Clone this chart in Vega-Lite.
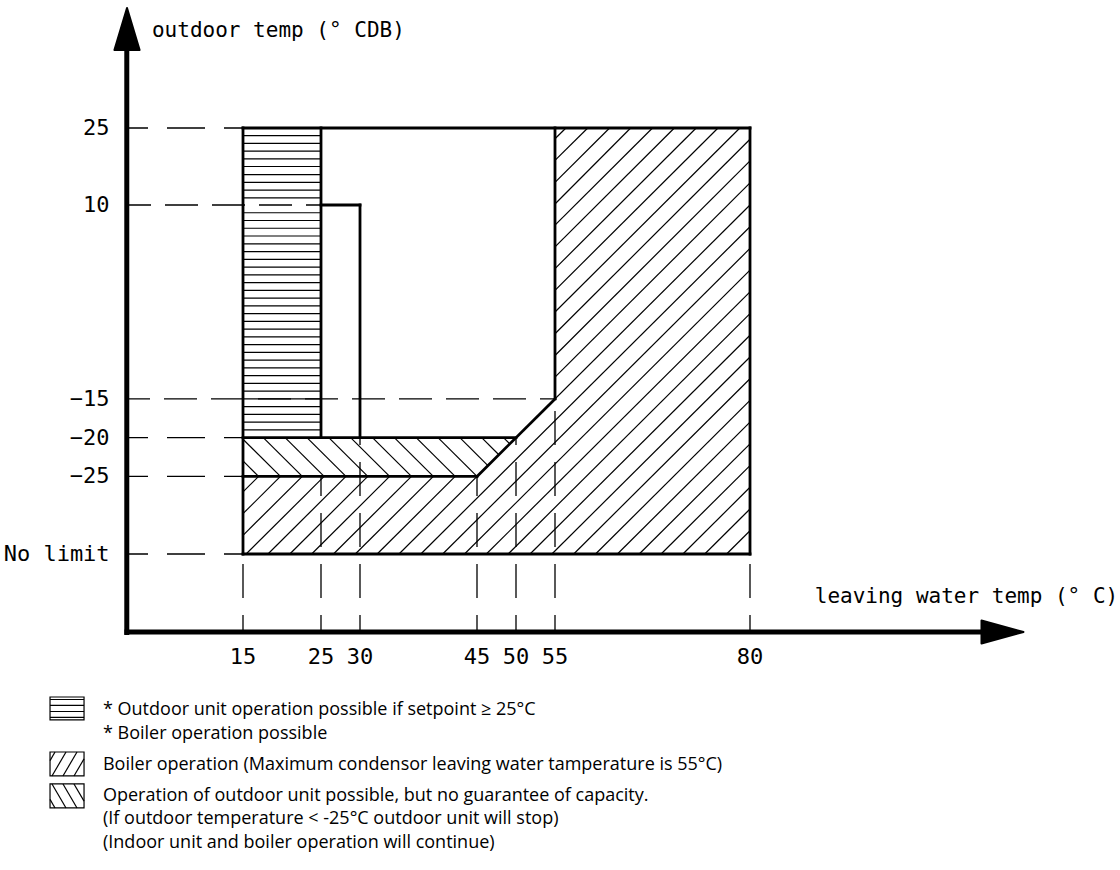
{
  "$schema": "https://vega.github.io/schema/vega-lite/v6.json",
  "width": 1120,
  "height": 870,
  "padding": 0,
  "autosize": {"type": "none"},
  "background": "white",
  "config": {"view": {"stroke": null}},
  "datasets": {
    "lines": [
      {"x": 15, "y": 25, "x2": 80, "y2": 25, "k": "b"},
      {"x": 80, "y": 25, "x2": 80, "y2": -35, "k": "b"},
      {"x": 15, "y": -35, "x2": 80, "y2": -35, "k": "b"},
      {"x": 15, "y": 25, "x2": 15, "y2": -35, "k": "b"},
      {"x": 25, "y": 25, "x2": 25, "y2": -20, "k": "b"},
      {"x": 15, "y": -20, "x2": 50, "y2": -20, "k": "b"},
      {"x": 15, "y": -25, "x2": 45, "y2": -25, "k": "b"},
      {"x": 45, "y": -25, "x2": 55, "y2": -15, "k": "b"},
      {"x": 55, "y": -15, "x2": 55, "y2": 25, "k": "b"},
      {"x": 25, "y": 10, "x2": 30, "y2": 10, "k": "b"},
      {"x": 30, "y": 10, "x2": 30, "y2": -20, "k": "b"},
      {"x": 0.1, "y": -45.45, "x2": 0.1, "y2": 40.6, "k": "a"},
      {"x": -0.2, "y": -45.06, "x2": 110.1, "y2": -45.06, "k": "a"},
      {"x": 15, "y": 25, "x2": 0.3, "y2": 25, "k": "dA"},
      {"x": 15, "y": -20, "x2": 0.3, "y2": -20, "k": "dA"},
      {"x": 15, "y": -25, "x2": 0.3, "y2": -25, "k": "dA"},
      {"x": 15, "y": -35, "x2": 0.3, "y2": -35, "k": "dA"},
      {"x": 25, "y": 10, "x2": 0.3, "y2": 10, "k": "dB"},
      {"x": 55, "y": -15, "x2": 0.3, "y2": -15, "k": "dB"},
      {"x": 15, "y": -45.06, "x2": 15, "y2": -35, "k": "dV"},
      {"x": 25, "y": -45.06, "x2": 25, "y2": -25, "k": "dV"},
      {"x": 30, "y": -45.06, "x2": 30, "y2": -20, "k": "dV"},
      {"x": 45, "y": -45.06, "x2": 45, "y2": -25, "k": "dV"},
      {"x": 50, "y": -45.06, "x2": 50, "y2": -20, "k": "dV"},
      {"x": 55, "y": -45.06, "x2": 55, "y2": -15, "k": "dV"},
      {"x": 80, "y": -45.06, "x2": 80, "y2": -35, "k": "dV"},
      {"x": 15, "y": 23.5, "x2": 25, "y2": 23.5, "k": "h"},
      {"x": 15, "y": 22, "x2": 25, "y2": 22, "k": "h"},
      {"x": 15, "y": 20.5, "x2": 25, "y2": 20.5, "k": "h"},
      {"x": 15, "y": 19, "x2": 25, "y2": 19, "k": "h"},
      {"x": 15, "y": 17.5, "x2": 25, "y2": 17.5, "k": "h"},
      {"x": 15, "y": 15.9, "x2": 25, "y2": 15.9, "k": "h"},
      {"x": 15, "y": 14.4, "x2": 25, "y2": 14.4, "k": "h"},
      {"x": 15, "y": 12.9, "x2": 25, "y2": 12.9, "k": "h"},
      {"x": 15, "y": 11.4, "x2": 25, "y2": 11.4, "k": "h"},
      {"x": 15, "y": 9, "x2": 25, "y2": 9, "k": "h"},
      {"x": 15, "y": 8, "x2": 25, "y2": 8, "k": "h"},
      {"x": 15, "y": 7, "x2": 25, "y2": 7, "k": "h"},
      {"x": 15, "y": 6, "x2": 25, "y2": 6, "k": "h"},
      {"x": 15, "y": 5, "x2": 25, "y2": 5, "k": "h"},
      {"x": 15, "y": 4, "x2": 25, "y2": 4, "k": "h"},
      {"x": 15, "y": 3, "x2": 25, "y2": 3, "k": "h"},
      {"x": 15, "y": 2, "x2": 25, "y2": 2, "k": "h"},
      {"x": 15, "y": 1, "x2": 25, "y2": 1, "k": "h"},
      {"x": 15, "y": 0, "x2": 25, "y2": 0, "k": "h"},
      {"x": 15, "y": -1, "x2": 25, "y2": -1, "k": "h"},
      {"x": 15, "y": -2, "x2": 25, "y2": -2, "k": "h"},
      {"x": 15, "y": -3, "x2": 25, "y2": -3, "k": "h"},
      {"x": 15, "y": -4, "x2": 25, "y2": -4, "k": "h"},
      {"x": 15, "y": -5, "x2": 25, "y2": -5, "k": "h"},
      {"x": 15, "y": -6, "x2": 25, "y2": -6, "k": "h"},
      {"x": 15, "y": -7, "x2": 25, "y2": -7, "k": "h"},
      {"x": 15, "y": -8, "x2": 25, "y2": -8, "k": "h"},
      {"x": 15, "y": -9, "x2": 25, "y2": -9, "k": "h"},
      {"x": 15, "y": -10, "x2": 25, "y2": -10, "k": "h"},
      {"x": 15, "y": -11, "x2": 25, "y2": -11, "k": "h"},
      {"x": 15, "y": -12, "x2": 25, "y2": -12, "k": "h"},
      {"x": 15, "y": -13, "x2": 25, "y2": -13, "k": "h"},
      {"x": 15, "y": -14, "x2": 25, "y2": -14, "k": "h"},
      {"x": 15, "y": -15, "x2": 25, "y2": -15, "k": "h"},
      {"x": 15, "y": -16, "x2": 25, "y2": -16, "k": "h"},
      {"x": 15, "y": -17, "x2": 25, "y2": -17, "k": "h"},
      {"x": 15, "y": -18, "x2": 25, "y2": -18, "k": "h"},
      {"x": 15, "y": -19, "x2": 25, "y2": -19, "k": "h"},
      {"x": 32.2, "y": -35, "x2": 42.2, "y2": -25, "k": "h"},
      {"x": 29.4, "y": -35, "x2": 39.4, "y2": -25, "k": "h"},
      {"x": 26.6, "y": -35, "x2": 36.6, "y2": -25, "k": "h"},
      {"x": 23.8, "y": -35, "x2": 33.8, "y2": -25, "k": "h"},
      {"x": 21.0, "y": -35, "x2": 31.0, "y2": -25, "k": "h"},
      {"x": 18.2, "y": -35, "x2": 28.2, "y2": -25, "k": "h"},
      {"x": 15.4, "y": -35, "x2": 25.4, "y2": -25, "k": "h"},
      {"x": 15, "y": -32.6, "x2": 22.6, "y2": -25, "k": "h"},
      {"x": 15, "y": -29.8, "x2": 19.8, "y2": -25, "k": "h"},
      {"x": 15, "y": -27, "x2": 17, "y2": -25, "k": "h"},
      {"x": 35, "y": -35, "x2": 80, "y2": 10, "k": "h"},
      {"x": 37.8, "y": -35, "x2": 80, "y2": 7.2, "k": "h"},
      {"x": 40.6, "y": -35, "x2": 80, "y2": 4.4, "k": "h"},
      {"x": 43.4, "y": -35, "x2": 80, "y2": 1.6, "k": "h"},
      {"x": 46.2, "y": -35, "x2": 80, "y2": -1.2, "k": "h"},
      {"x": 49.0, "y": -35, "x2": 80, "y2": -4, "k": "h"},
      {"x": 51.8, "y": -35, "x2": 80, "y2": -6.8, "k": "h"},
      {"x": 54.6, "y": -35, "x2": 80, "y2": -9.6, "k": "h"},
      {"x": 57.4, "y": -35, "x2": 80, "y2": -12.4, "k": "h"},
      {"x": 60.2, "y": -35, "x2": 80, "y2": -15.2, "k": "h"},
      {"x": 63.0, "y": -35, "x2": 80, "y2": -18, "k": "h"},
      {"x": 65.8, "y": -35, "x2": 80, "y2": -20.8, "k": "h"},
      {"x": 68.6, "y": -35, "x2": 80, "y2": -23.6, "k": "h"},
      {"x": 71.4, "y": -35, "x2": 80, "y2": -26.4, "k": "h"},
      {"x": 74.2, "y": -35, "x2": 80, "y2": -29.2, "k": "h"},
      {"x": 77.0, "y": -35, "x2": 80, "y2": -32, "k": "h"},
      {"x": 55, "y": -12.2, "x2": 80, "y2": 14.3, "k": "h"},
      {"x": 55, "y": -9.4, "x2": 80, "y2": 18.6, "k": "h"},
      {"x": 55, "y": -6.6, "x2": 80, "y2": 22.8, "k": "h"},
      {"x": 55, "y": -3.8, "x2": 78.7, "y2": 25, "k": "h"},
      {"x": 55, "y": -1.0, "x2": 75.9, "y2": 25, "k": "h"},
      {"x": 55, "y": 1.8, "x2": 73.1, "y2": 25, "k": "h"},
      {"x": 55, "y": 4.6, "x2": 70.3, "y2": 25, "k": "h"},
      {"x": 55, "y": 7.4, "x2": 67.5, "y2": 25, "k": "h"},
      {"x": 55, "y": 10.2, "x2": 64.7, "y2": 25, "k": "h"},
      {"x": 55, "y": 14.4, "x2": 62.0, "y2": 25, "k": "h"},
      {"x": 55, "y": 18.7, "x2": 59.2, "y2": 25, "k": "h"},
      {"x": 55, "y": 22.9, "x2": 56.4, "y2": 25, "k": "h"},
      {"x": 15, "y": -23.0, "x2": 17.0, "y2": -25, "k": "h"},
      {"x": 15, "y": -20.2, "x2": 19.8, "y2": -25, "k": "h"},
      {"x": 17.6, "y": -20, "x2": 22.6, "y2": -25, "k": "h"},
      {"x": 20.4, "y": -20, "x2": 25.4, "y2": -25, "k": "h"},
      {"x": 23.2, "y": -20, "x2": 28.2, "y2": -25, "k": "h"},
      {"x": 26.0, "y": -20, "x2": 31.0, "y2": -25, "k": "h"},
      {"x": 28.8, "y": -20, "x2": 33.8, "y2": -25, "k": "h"},
      {"x": 31.6, "y": -20, "x2": 36.6, "y2": -25, "k": "h"},
      {"x": 34.4, "y": -20, "x2": 39.4, "y2": -25, "k": "h"},
      {"x": 37.2, "y": -20, "x2": 42.2, "y2": -25, "k": "h"},
      {"x": 40.0, "y": -20, "x2": 45.0, "y2": -25, "k": "h"},
      {"x": 42.8, "y": -20, "x2": 46.4, "y2": -23.6, "k": "h"},
      {"x": 45.6, "y": -20, "x2": 47.8, "y2": -22.2, "k": "h"},
      {"x": 48.4, "y": -20, "x2": 49.2, "y2": -20.8, "k": "h"},
      {"x": -9.74, "y": -53.76, "x2": -5.38, "y2": -53.76, "k": "h"},
      {"x": -9.74, "y": -54.53, "x2": -5.38, "y2": -54.53, "k": "h"},
      {"x": -9.74, "y": -55.31, "x2": -5.38, "y2": -55.31, "k": "h"},
      {"x": -9.74, "y": -56.08, "x2": -5.38, "y2": -56.08, "k": "h"},
      {"x": -9.74, "y": -61.64, "x2": -9.10, "y2": -60.53, "k": "h"},
      {"x": -9.49, "y": -63.62, "x2": -7.69, "y2": -60.53, "k": "h"},
      {"x": -8.08, "y": -63.62, "x2": -6.28, "y2": -60.53, "k": "h"},
      {"x": -6.67, "y": -63.62, "x2": -5.38, "y2": -61.42, "k": "h"},
      {"x": -9.74, "y": -66.64, "x2": -9.10, "y2": -67.75, "k": "h"},
      {"x": -9.49, "y": -64.65, "x2": -7.69, "y2": -67.75, "k": "h"},
      {"x": -8.08, "y": -64.65, "x2": -6.28, "y2": -67.75, "k": "h"},
      {"x": -6.67, "y": -64.65, "x2": -5.38, "y2": -66.86, "k": "h"}
    ],
    "swatches": [
      {"x": -9.74, "x2": -5.38, "y": -53.44, "y2": -56.40},
      {"x": -9.74, "x2": -5.38, "y": -60.53, "y2": -63.62},
      {"x": -9.74, "x2": -5.38, "y": -64.65, "y2": -67.75}
    ],
    "arrows": [
      {"x": 0.13, "y": 44.29, "k": "up"},
      {"x": 112.37, "y": -45.06, "k": "right"}
    ],
    "texts": [
      {"t": "outdoor temp (° CDB)", "x": 3.33, "y": 42.73, "k": "title"},
      {"t": "leaving water temp (° C)", "x": 88.3, "y": -41.32, "k": "title"},
      {"t": "25", "x": -2.1, "y": 25, "k": "yt"},
      {"t": "10", "x": -2.1, "y": 10, "k": "yt"},
      {"t": "−15", "x": -2.1, "y": -15, "k": "yt"},
      {"t": "−20", "x": -2.1, "y": -20, "k": "yt"},
      {"t": "−25", "x": -2.1, "y": -25, "k": "yt"},
      {"t": "No limit", "x": -2.1, "y": -35, "k": "yt"},
      {"t": "15", "x": 15, "y": -48.28, "k": "xt"},
      {"t": "25", "x": 25, "y": -48.28, "k": "xt"},
      {"t": "30", "x": 30, "y": -48.28, "k": "xt"},
      {"t": "45", "x": 45, "y": -48.28, "k": "xt"},
      {"t": "50", "x": 50, "y": -48.28, "k": "xt"},
      {"t": "55", "x": 55, "y": -48.28, "k": "xt"},
      {"t": "80", "x": 80, "y": -48.28, "k": "xt"},
      {"t": "* Outdoor unit operation possible if setpoint ≥ 25°C", "x": -2.95, "y": -55.11, "k": "lg"},
      {"t": "* Boiler operation possible", "x": -2.95, "y": -58.21, "k": "lg"},
      {"t": "Boiler operation (Maximum condensor leaving water tamperature is 55°C)", "x": -2.95, "y": -62.2, "k": "lg"},
      {"t": "Operation of outdoor unit possible, but no guarantee of capacity.", "x": -2.95, "y": -66.2, "k": "lg"},
      {"t": "(If outdoor temperature < -25°C outdoor unit will stop)", "x": -2.95, "y": -69.17, "k": "lg"},
      {"t": "(Indoor unit and boiler operation will continue)", "x": -2.95, "y": -72.26, "k": "lg"}
    ]
  },
  "encoding": {
    "x": {"field": "x", "type": "quantitative", "scale": {"domain": [0, 115], "range": [126, 1023], "zero": false, "nice": false}, "axis": null},
    "y": {"field": "y", "type": "quantitative", "scale": {"domain": [-75, 10, 25, 50], "range": [864.2, 205, 128, -0.3], "zero": false, "nice": false}, "axis": null}
  },
  "layer": [
    {
      "data": {"name": "lines"},
      "transform": [{"filter": "datum.k == 'h'"}],
      "mark": {"type": "rule", "stroke": "black", "strokeWidth": 1.2},
      "encoding": {"x2": {"field": "x2"}, "y2": {"field": "y2"}}
    },
    {
      "data": {"name": "lines"},
      "transform": [{"filter": "datum.k == 'dA'"}],
      "mark": {"type": "rule", "stroke": "black", "strokeWidth": 1.3, "strokeDash": [38, 19], "strokeDashOffset": 19},
      "encoding": {"x2": {"field": "x2"}, "y2": {"field": "y2"}}
    },
    {
      "data": {"name": "lines"},
      "transform": [{"filter": "datum.k == 'dB'"}],
      "mark": {"type": "rule", "stroke": "black", "strokeWidth": 1.3, "strokeDash": [33, 14], "strokeDashOffset": 18},
      "encoding": {"x2": {"field": "x2"}, "y2": {"field": "y2"}}
    },
    {
      "data": {"name": "lines"},
      "transform": [{"filter": "datum.k == 'dV'"}],
      "mark": {"type": "rule", "stroke": "black", "strokeWidth": 1.3, "strokeDash": [34, 17], "strokeDashOffset": 17},
      "encoding": {"x2": {"field": "x2"}, "y2": {"field": "y2"}}
    },
    {
      "data": {"name": "lines"},
      "transform": [{"filter": "datum.k == 'b'"}],
      "mark": {"type": "rule", "stroke": "black", "strokeWidth": 2.8, "strokeCap": "square"},
      "encoding": {"x2": {"field": "x2"}, "y2": {"field": "y2"}}
    },
    {
      "data": {"name": "lines"},
      "transform": [{"filter": "datum.k == 'a'"}],
      "mark": {"type": "rule", "stroke": "black", "strokeWidth": 5},
      "encoding": {"x2": {"field": "x2"}, "y2": {"field": "y2"}}
    },
    {
      "data": {"name": "swatches"},
      "mark": {"type": "rect", "fill": "white", "fillOpacity": 0, "stroke": "black", "strokeWidth": 1.2},
      "encoding": {"x2": {"field": "x2"}, "y2": {"field": "y2"}}
    },
    {
      "data": {"name": "arrows"},
      "transform": [{"filter": "datum.k == 'up'"}],
      "mark": {"type": "point", "shape": "M0,-1L0.6,1L-0.6,1Z", "size": 1764, "filled": true, "fill": "black", "stroke": "black", "strokeWidth": 2, "strokeJoin": "round", "opacity": 1}
    },
    {
      "data": {"name": "arrows"},
      "transform": [{"filter": "datum.k == 'right'"}],
      "mark": {"type": "point", "shape": "M1,0L-1,-0.55L-1,0.55Z", "size": 1764, "filled": true, "fill": "black", "stroke": "black", "strokeWidth": 2, "strokeJoin": "round", "opacity": 1}
    },
    {
      "data": {"name": "texts"},
      "transform": [{"filter": "datum.k == 'title'"}],
      "mark": {"type": "text", "font": "DejaVu Sans Mono", "fontSize": 21, "align": "left", "baseline": "alphabetic", "color": "black"},
      "encoding": {"text": {"field": "t"}}
    },
    {
      "data": {"name": "texts"},
      "transform": [{"filter": "datum.k == 'yt'"}],
      "mark": {"type": "text", "font": "DejaVu Sans Mono", "fontSize": 22, "align": "right", "baseline": "middle", "color": "black"},
      "encoding": {"text": {"field": "t"}}
    },
    {
      "data": {"name": "texts"},
      "transform": [{"filter": "datum.k == 'xt'"}],
      "mark": {"type": "text", "font": "DejaVu Sans Mono", "fontSize": 22, "align": "center", "baseline": "middle", "color": "black"},
      "encoding": {"text": {"field": "t"}}
    },
    {
      "data": {"name": "texts"},
      "transform": [{"filter": "datum.k == 'lg'"}],
      "mark": {"type": "text", "font": "Open Sans", "fontSize": 18, "align": "left", "baseline": "middle", "color": "black"},
      "encoding": {"text": {"field": "t"}}
    }
  ]
}
